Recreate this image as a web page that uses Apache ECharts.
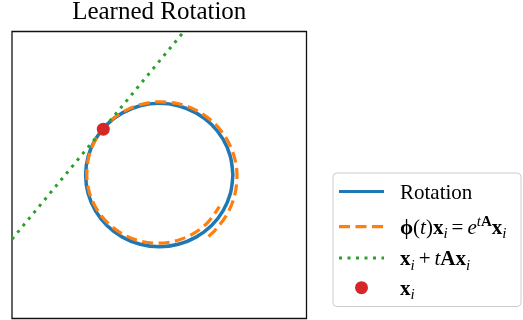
<!DOCTYPE html>
<html><head><meta charset="utf-8">
<script src="https://cdn.jsdelivr.net/npm/echarts@6/dist/echarts.min.js"></script>
<style>html,body{margin:0;padding:0;background:#fff}#c{width:523px;height:320px}</style>
</head><body><div id="c"></div>
<script>
// ---- data ----
const titleText = 'Learned Rotation';
const seriesNames = ['Rotation', 'phi', 'tangent', 'xi'];
// Rotation orbit: unit circle, sampled by angle (degrees)
const rotationAngles = [0,15,30,45,60,75,90,105,120,135,150,165,180,195,210,225,240,255,270,285,300,315,330,345,360];
const rotationRadius = 1;
// learned flow e^{tA} x_i: polar samples (angle in degrees, radius)
const spiralAngles = [-52,-45,-30,-15,0,15,30,45,60,75,90,105,120,135,150,165,180,195,210,225,240,255,270,285,300,315,331.6];
const spiralRadii  = [1.086,1.080,1.071,1.063,1.056,1.050,1.044,1.038,1.032,1.026,1.020,1.014,1.008,1.002,0.996,0.990,0.984,0.979,0.973,0.967,0.961,0.956,0.950,0.945,0.939,0.934,0.928];
// tangent line x_i + t A x_i (end points where it leaves the box)
const tangentX = [-2.0, 0.335];
const tangentY = [-0.895, 2.0];
// the point x_i
const pointX = [-0.760];
const pointY = [0.639];
const axisMin = -2, axisMax = 2;

// ---- build ----
const toXY = (a, r) => [r * Math.cos(a * Math.PI / 180), r * Math.sin(a * Math.PI / 180)];
const rotationData = rotationAngles.map(a => toXY(a, rotationRadius));
const spiralData = spiralAngles.map((a, i) => toXY(a, spiralRadii[i]));
const tangentData = tangentX.map((x, i) => [x, tangentY[i]]);
const pointData = pointX.map((x, i) => [x, pointY[i]]);

const FF = "'Liberation Serif', 'Times New Roman', serif";
const FS = 21, SS = 15;
const rowLH = [29.2, 26, 20.4, 17.2];
const rich = {};
rowLH.forEach((lh, k) => {
  const r = k + 1;
  const base = {fontFamily: FF, fontSize: FS, lineHeight: lh, color: '#000'};
  rich['n' + r] = Object.assign({}, base);
  rich['b' + r] = Object.assign({}, base, {fontWeight: 'bold'});
  rich['i' + r] = Object.assign({}, base, {fontStyle: 'italic'});
  rich['o' + r] = Object.assign({}, base, {padding: [0, 4, 0, 4]});
  rich['s' + r] = {fontFamily: FF, fontSize: SS, fontStyle: 'italic', color: '#000', lineHeight: lh, height: lh - 12, verticalAlign: 'bottom'};
  rich['p' + r] = {fontFamily: FF, fontSize: SS, fontStyle: 'italic', color: '#000', lineHeight: lh, height: lh - 12, verticalAlign: 'top'};
  rich['q' + r] = {fontFamily: FF, fontSize: SS, fontWeight: 'bold', color: '#000', lineHeight: lh, height: lh - 12, verticalAlign: 'top'};
});
const legendLabels = {
  Rotation: '{n1|Rotation}',
  phi: '{b2|\u03d5}{n2|(}{i2|t}{n2|)}{b2|x}{s2|i}{o2|=}{i2|e}{p2|t}{q2|A}{b2|x}{s2|i}',
  tangent: '{b3|x}{s3|i}{o3|+}{i3|t}{b3|Ax}{s3|i}',
  xi: '{b4|x}{s4|i}'
};

const chart = echarts.init(document.getElementById('c'), null, {renderer: 'canvas'});
chart.setOption({
  animation: false,
  backgroundColor: '#fff',
  title: {
    text: titleText, left: 159.25, top: 0, textAlign: 'center', padding: 0,
    textStyle: {fontFamily: FF, fontSize: 25, fontWeight: 'normal', color: '#000'}
  },
  grid: {left: 12, top: 31.5, width: 294.5, height: 287, show: true, borderColor: '#111', borderWidth: 1.3, backgroundColor: 'transparent'},
  xAxis: {type: 'value', min: axisMin, max: axisMax, axisLine: {show: false}, axisTick: {show: false}, axisLabel: {show: false}, splitLine: {show: false}},
  yAxis: {type: 'value', min: axisMin, max: axisMax, axisLine: {show: false}, axisTick: {show: false}, axisLabel: {show: false}, splitLine: {show: false}},
  legend: {
    orient: 'vertical', left: 333, top: 173,
    padding: [2.1, 14.6, 3.5, 4.4],
    itemGap: 4, itemWidth: 45, itemHeight: 13,
    backgroundColor: '#fff', borderColor: '#cccccc', borderWidth: 1, borderRadius: 4,
    textStyle: {fontFamily: FF, fontSize: FS, color: '#000', padding: [3.6, 0, 0, 11], backgroundColor: 'rgba(255,255,255,0)', rich: rich},
    formatter: name => legendLabels[name],
    data: [
      {name: seriesNames[0], itemStyle: {opacity: 0}, lineStyle: {width: 3.2}},
      {name: seriesNames[1], itemStyle: {opacity: 0}, lineStyle: {width: 3.2}},
      {name: seriesNames[2], itemStyle: {opacity: 0}, lineStyle: {width: 3}},
      {name: seriesNames[3]}
    ]
  },
  series: [
    {name: seriesNames[0], type: 'line', data: rotationData, smooth: 0.33, symbol: 'none', z: 2,
     lineStyle: {color: '#1f77b4', width: 3.5}, itemStyle: {color: '#1f77b4'}},
    {name: seriesNames[1], type: 'line', data: spiralData, smooth: 0.33, symbol: 'none', z: 3,
     lineStyle: {color: '#ff7f0e', width: 3.2, type: [11, 5.5], cap: 'butt'}, itemStyle: {color: '#ff7f0e'}},
    {name: seriesNames[2], type: 'line', data: tangentData, symbol: 'none', z: 4,
     lineStyle: {color: '#2ca02c', width: 3, type: [3, 5.5], cap: 'butt'}, itemStyle: {color: '#2ca02c'}},
    {name: seriesNames[3], type: 'scatter', data: pointData, symbol: 'circle', symbolSize: 13, z: 5,
     itemStyle: {color: '#d62728', opacity: 1}}
  ]
});
</script></body></html>
